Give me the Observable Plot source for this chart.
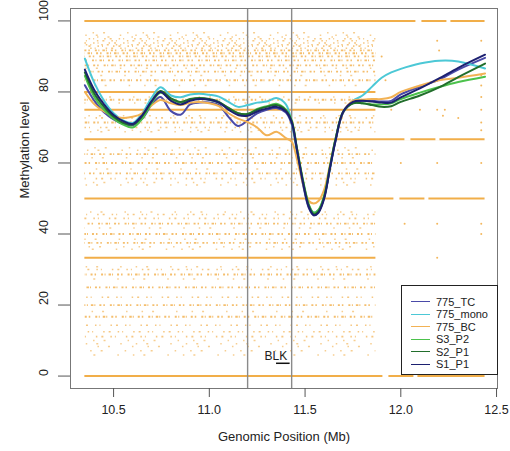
<!DOCTYPE html>
<html>
<head>
<meta charset="utf-8">
<script src="https://cdn.jsdelivr.net/npm/d3@7"></script>
<script src="https://cdn.jsdelivr.net/npm/@observablehq/plot@0.6"></script>
<style>
  html, body { margin: 0; padding: 0; background: #fff; }
  #wrap { position: relative; width: 510px; height: 451px; font-family: "Liberation Sans", Arial, sans-serif; }
  #legend { position: absolute; left: 401px; top: 285px; width: 95px; height: 88px; border: 1px solid #222; background: #fff; }
  .row { position: absolute; left: 0; height: 12px; font-size: 11px; line-height: 12px; color: #222; }
  .sw { position: absolute; left: 9px; top: 5.5px; width: 19px; height: 0; border-top: 1.3px solid; }
  .lb { position: absolute; left: 34px; top: 0; white-space: nowrap; }
</style>
</head>
<body>
<div id="wrap"><div id="legend"></div></div>
<script>
// ---------- data ----------
const xTicks = [10.5, 11.0, 11.5, 12.0, 12.5];
const yTicks = [0, 20, 40, 60, 80, 100];

const seriesNames = ["775_TC", "775_mono", "775_BC", "S3_P2", "S2_P1", "S1_P1"];
const seriesColors = ["#4a4aa8", "#4cc8d6", "#f2b255", "#4cc24c", "#226e2c", "#1c2070"];

const pos = [10.35, 10.40, 10.45, 10.50, 10.55, 10.60, 10.65, 10.70, 10.745, 10.80,
             10.85, 10.90, 10.95, 11.00, 11.05, 11.10, 11.15, 11.20, 11.25, 11.30,
             11.35, 11.40, 11.43, 11.46, 11.49, 11.52, 11.545, 11.57, 11.60, 11.63,
             11.66, 11.70, 11.75, 11.80, 11.85, 11.90, 11.95, 12.00, 12.10, 12.20,
             12.30, 12.44];

const tc775 = [81.9, 77.5, 74.3, 72.3, 71.0, 70.6, 72.5, 76.5, 78.6, 74.6,
               73.6, 76.5, 77.0, 77.0, 76.3, 73.0, 70.4, 72.0, 74.0, 75.0,
               75.5, 74.2, 71.0, 62.5, 53.8, 47.3, 45.3, 46.2, 50.3, 58.5,
               66.5, 74.3, 77.0, 77.5, 77.5, 77.3, 77.5, 79.3, 81.5, 83.5,
               86.3, 89.6];
const mono775 = [89.4, 82.5, 77.5, 74.0, 72.0, 71.3, 74.0, 78.5, 81.3, 79.0,
                 78.5, 79.3, 79.5, 79.2, 78.7, 77.2, 75.8, 76.3, 77.0, 77.3,
                 78.3, 76.5, 71.5, 62.8, 54.5, 48.0, 46.1, 46.8, 50.5, 58.8,
                 67.0, 74.5, 77.5, 79.0, 81.5, 84.0, 85.5, 86.5, 88.0, 88.8,
                 88.6, 86.6];
const bc775 = [80.0, 76.5, 74.5, 73.2, 72.7, 73.0, 74.0, 76.3, 77.7, 76.8,
               76.3, 77.0, 77.2, 76.8, 76.0, 74.0, 72.5, 71.5, 70.0, 67.8,
               68.8, 67.0, 66.0, 60.5, 54.0, 49.3, 48.6, 49.3, 52.5, 59.5,
               67.0, 74.5, 77.5, 77.8, 78.0, 78.0, 78.5, 80.0, 81.8, 83.3,
               84.0, 85.2];
const s3p2 = [84.5, 78.5, 75.0, 72.5, 70.8, 70.0, 72.5, 77.0, 79.8, 78.0,
              77.0, 77.8, 78.2, 77.8, 77.0, 75.5, 74.0, 73.8, 75.2, 76.0,
              76.7, 75.0, 72.0, 63.5, 55.0, 48.3, 46.0, 46.8, 50.8, 59.0,
              67.0, 74.5, 76.8, 76.8, 76.5, 76.5, 76.8, 78.0, 79.8, 81.4,
              82.8, 84.3];
const s2p1 = [85.5, 79.5, 75.8, 73.0, 71.3, 70.8, 73.2, 77.5, 80.3, 78.2,
              77.2, 78.0, 78.3, 78.0, 77.2, 75.5, 74.0, 73.8, 75.0, 75.8,
              76.3, 74.8, 71.8, 63.2, 54.6, 47.9, 45.6, 46.4, 50.5, 58.8,
              66.8, 74.5, 76.8, 76.8, 76.3, 75.8, 76.0, 77.2, 79.0, 81.3,
              84.2, 88.0];
const s1p1 = [86.3, 80.5, 76.5, 73.5, 71.8, 71.0, 73.5, 77.5, 80.0, 77.5,
              76.5, 77.5, 78.0, 77.8, 77.0, 75.0, 73.5, 73.3, 74.5, 75.3,
              75.8, 74.5, 71.5, 63.0, 54.2, 47.5, 45.3, 46.0, 50.0, 58.5,
              66.5, 74.5, 77.2, 77.5, 77.3, 77.0, 77.0, 78.5, 81.0, 83.8,
              86.8, 90.5];
const seriesValues = [tc775, mono775, bc775, s3p2, s2p1, s1p1];

// per-CpG methylation levels: rows of points at discrete fractions
const bandLevel   = [100, 96.7, 96.0, 95.5, 95.0, 94.4, 93.8, 93.3, 92.9, 92.3, 91.7, 90.9, 90.0, 88.9, 87.5, 86.7,
                     85.7, 84.6, 83.3, 81.8, 80.0, 78.6, 77.8, 76.9, 75.0, 73.3, 72.7, 71.4, 70.0, 69.2, 68.8,
                     66.7, 64.3, 63.6, 62.5, 61.5, 60.0, 58.3, 57.1, 55.6, 54.5, 53.8, 50.0, 46.2, 45.5, 44.4,
                     42.9, 41.7, 40.0, 38.5, 37.5, 36.4, 35.7, 33.3, 30.8, 30.0, 28.6, 27.3, 25.0, 22.2, 20.0,
                     18.2, 16.7, 14.3, 12.5, 11.1, 10.0, 9.1, 8.3, 7.1, 5.9, 0];
const bandDensity = [4, 1, 1, 1, 2, 2, 2, 2, 2, 2, 3, 3, 3, 3, 3, 1,
                     3, 1, 3, 1, 4, 1, 3, 1, 4, 1, 2, 3, 2, 1, 1,
                     4, 1, 1, 3, 1, 3, 1, 3, 2, 1, 1, 4, 1, 2, 2,
                     3, 1, 3, 1, 3, 1, 1, 4, 1, 2, 3, 1, 3, 2, 3,
                     1, 3, 2, 2, 2, 1, 1, 1, 1, 1, 4];
const bandStart = 10.35;
const bandEnd = 11.87;
// levels whose rows continue across the sparse right-hand part
const longLevels = [100, 66.7, 50, 0];
const longEnd = 12.44;

// isolated points in the sparse right-hand part
const sparseX = [11.90, 11.92, 11.95, 12.00, 12.02, 12.10, 12.19, 12.19, 12.19, 12.19, 12.20, 12.22,
                 12.23, 12.30, 12.42, 12.42, 12.42, 12.42, 12.42, 12.42, 12.42, 12.42, 12.42, 12.42, 12.19, 12.30];
const sparseY = [90.0, 83.3, 75.0, 60.0, 42.9, 75.0, 94.4, 75.0, 60.0, 42.9, 91.7, 73.3,
                 75.0, 72.7, 94.4, 84.6, 81.8, 78.6, 75.0, 71.4, 69.2, 60.0, 42.9, 40.0, 33.3, 25.0];

const regionBounds = [11.2, 11.43];
const geneName = ["BLK"];
const geneStart = [11.351];
const geneEnd = [11.422];
const geneLabelX = [11.348];

// ---------- build ----------
const lineRows = [];
seriesNames.forEach((name, k) => pos.forEach((p, i) => lineRows.push({series: name, x: p, y: seriesValues[k][i]})));
const sparse = sparseX.map((x, i) => ({x, y: sparseY[i]}));
const genes = geneName.map((g, i) => ({name: g, start: geneStart[i], end: geneEnd[i], lx: geneLabelX[i]}));

const orange = "#f0a535";
const dashStyle = {
  4: {w: 2.0, dash: null, op: 0.9},
  3: {w: 1.8, dash: "2,1.5,1,3,2.5,1,1,4,2,2,1.5,5", op: 0.72},
  2: {w: 1.6, dash: "1.5,4,2,7,1.5,3,1,10", op: 0.62},
  1: {w: 1.5, dash: "1.5,14,1.5,9,2,22", op: 0.55}
};
const bandMarks = bandLevel.map((lev, i) => {
  const s = dashStyle[bandDensity[i]];
  const end = longLevels.includes(lev) ? longEnd : bandEnd;
  const o = {y: d => d.y, x1: d => d.x1, x2: d => d.x2, stroke: orange, strokeWidth: s.w, strokeOpacity: s.op};
  if (s.dash) { o.strokeDasharray = s.dash; o.strokeDashoffset = (i * 7.3) % 19; }
  return Plot.ruleY([{y: lev, x1: bandStart, x2: end}], o);
});
// the long rows get gaps on the right side
const longMarks = longLevels.map((lev, i) => Plot.ruleY([{y: lev, x1: bandEnd, x2: longEnd}], {
  y: d => d.y, x1: d => d.x1, x2: d => d.x2, stroke: "#fff", strokeWidth: 3,
  strokeDasharray: "0,40,6,25,4,60", strokeDashoffset: i * 11
}));

const font = "'Liberation Sans', Arial, sans-serif";
const chart = Plot.plot({
  width: 510, height: 451,
  marginLeft: 70, marginRight: 13, marginTop: 8, marginBottom: 63,
  style: {fontFamily: font, background: "#fff", color: "#222"},
  x: {domain: [10.275, 12.505]},
  y: {domain: [-3.5, 103.5]},
  color: {domain: seriesNames, range: seriesColors},
  marks: [
    ...bandMarks,
    ...longMarks,
    Plot.dot(sparse, {x: "x", y: "y", r: 1, fill: orange, fillOpacity: 0.8}),
    Plot.ruleX(regionBounds, {stroke: "#8a8a8a", strokeWidth: 1.4}),
    ...seriesNames.map((name, k) => Plot.line(lineRows.filter(d => d.series === name), {
      x: "x", y: "y", stroke: seriesColors[k], strokeWidth: 2, curve: "catmull-rom"
    })),
    Plot.text(genes, {x: "lx", y: 5.6, text: "name", fontSize: 12, fill: "#222"}),
    Plot.ruleY(genes, {y: 3.6, x1: "start", x2: "end", stroke: "#111", strokeWidth: 1.5}),
    Plot.frame({stroke: "#777", strokeWidth: 1}),
    Plot.axisX({ticks: xTicks, tickSize: 9, tickPadding: 8, tickFormat: d => d.toFixed(1), fontSize: 12.5, label: null, stroke: "#555"}),
    Plot.axisY({ticks: yTicks, tickSize: 12, tickFormat: () => "", label: null, stroke: "#555"}),
    Plot.text(yTicks, {y: d => d, frameAnchor: "left", dx: -27, rotate: -90, text: d => String(d), fontSize: 12.5, fill: "#222"}),
    Plot.text(["Methylation level"], {frameAnchor: "left", dx: -46, rotate: -90, text: d => d, fontSize: 13, fill: "#222"}),
    Plot.text(["Genomic Position (Mb)"], {frameAnchor: "bottom", dy: 52, text: d => d, fontSize: 13, fill: "#222"})
  ]
});
document.getElementById("wrap").prepend(chart);
chart.style.position = "absolute"; chart.style.left = "0"; chart.style.top = "0";

const legend = document.getElementById("legend");
seriesNames.forEach((name, i) => {
  const row = document.createElement("div");
  row.className = "row";
  row.style.top = (9.5 + i * 12.5) + "px";
  row.style.width = "100%";
  const sw = document.createElement("span");
  sw.className = "sw";
  sw.style.borderTopColor = seriesColors[i];
  const lb = document.createElement("span");
  lb.className = "lb";
  lb.textContent = name;
  row.append(sw, lb);
  legend.append(row);
});
</script>
</body>
</html>
